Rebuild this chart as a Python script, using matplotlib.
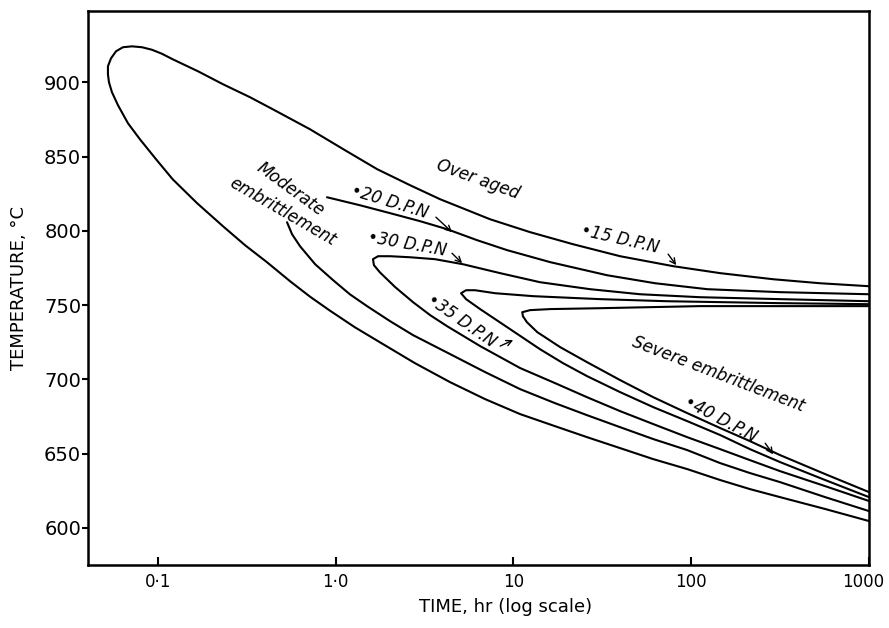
import numpy as np
import matplotlib
matplotlib.use("Agg")
import matplotlib.pyplot as plt
from matplotlib.transforms import ScaledTranslation

# embrittlement contours, hardness increase in D.P.N.
# each curve: time (hr), temperature (C), from the upper branch round the nose to the lower branch
t_15 = [1000, 531, 289, 145.5, 79.1, 39.8, 21.6, 12.4, 7.38, 3.86,
        2.62, 1.71, 1.13, 0.716, 0.443, 0.330, 0.232, 0.168, 0.121, 0.1053,
        0.0925, 0.0813, 0.0714, 0.0635, 0.0581, 0.0544, 0.0523, 0.0523, 0.0530, 0.0551,
        0.0596, 0.0678, 0.0792, 0.0975, 0.121, 0.166, 0.232, 0.309, 0.410, 0.553,
        0.716, 0.929, 1.28, 1.77, 2.79, 4.40, 6.92, 10.9, 17.1, 25.9,
        39.8, 61.1, 94.8, 145.5, 214, 316, 567, 1000]
T_15 = [762.7, 764.7, 767.4, 771.5, 776.2, 782.9, 791.0, 799.1, 807.8, 821.3,
        830.7, 841.5, 854.2, 868.4, 881.8, 889.9, 898.7, 907.4, 915.5, 919.2,
        921.9, 923.6, 924.2, 923.6, 920.9, 916.1, 910.8, 905.4, 900.0, 893.3,
        884.5, 872.4, 861.6, 848.2, 834.7, 818.6, 803.1, 790.3, 778.9, 766.1,
        755.7, 746.2, 735.1, 725.0, 710.9, 698.1, 686.7, 676.6, 668.5, 661.1,
        653.7, 646.3, 639.6, 632.2, 626.1, 620.7, 612.7, 604.6]

# 20 D.P.N. curve is broken where the "Moderate embrittlement" label sits
t_20_up = [0.893, 1.37, 2.02, 2.98, 4.23, 6.24, 9.20, 16.1, 33.6, 62.7, 123, 316, 1000]
T_20_up = [822.6, 817.2, 811.9, 806.5, 801.1, 793.7, 787.0, 778.9, 770.1, 764.7, 760.7, 758.7, 757.3]
t_20_lo = [0.532, 0.568, 0.630, 0.766, 0.966, 1.20, 1.50, 2.02, 2.72, 4.40, 6.92,
           10.9, 17.1, 25.9, 39.8, 61.1, 94.8, 145.5, 214, 316, 567, 1000]
T_20_lo = [805.8, 797.7, 789.6, 777.5, 766.8, 757.3, 749.3, 739.2, 729.8, 717.0, 704.9,
           693.4, 684.0, 675.9, 667.8, 659.8, 652.4, 643.6, 636.9, 630.8, 620.7, 611.3]

t_30 = [1000, 316, 112, 51.5, 27.0, 14.1, 8.41, 5.20, 3.62, 2.62,
        2.02, 1.73, 1.62, 1.64, 1.77, 2.16, 2.72, 3.40, 4.23, 6.49,
        10.9, 17.1, 25.9, 39.8, 61.1, 94.8, 145.5, 214, 316, 567, 1000]
T_30 = [752.6, 754.0, 755.3, 757.3, 760.7, 765.4, 771.5, 777.5, 780.9, 782.2,
        782.9, 782.9, 780.9, 776.9, 772.1, 762.1, 752.0, 743.2, 735.8, 722.4,
        707.6, 697.5, 688.0, 678.6, 669.9, 661.1, 653.0, 645.6, 638.2, 628.1, 618.1]

t_35 = [1000, 316, 73.1, 30.7, 12.9, 7.87, 6.08, 5.41, 5.07, 5.41,
        6.49, 9.57, 14.1, 19.0, 25.9, 39.8, 61.1, 94.8, 145.5, 214, 316, 567, 1000]
T_35 = [750.6, 751.3, 752.6, 754.0, 756.0, 758.0, 760.0, 760.0, 758.0, 754.0,
        747.3, 733.8, 720.3, 710.9, 702.2, 691.4, 681.3, 671.9, 662.5, 653.0, 644.3, 632.2, 620.7]

t_40 = [1000, 316, 112, 30.7, 16.1, 12.4, 11.2, 11.3, 11.9, 13.6,
        18.3, 25.9, 39.8, 61.1, 94.8, 145.5, 214, 316, 567, 1000]
T_40 = [749.3, 749.3, 749.3, 747.9, 747.3, 746.6, 745.2, 742.5, 738.5, 731.8,
        721.7, 711.6, 699.5, 688.0, 677.3, 667.2, 658.4, 649.0, 636.2, 624.1]

x_ticks = [0.1, 1, 10, 100, 1000]
x_ticklabels = ["0·1", "1·0", "10", "100", "1000"]
y_ticks = [600, 650, 700, 750, 800, 850, 900]

fig = plt.figure(figsize=(8.89, 6.28), dpi=100)
ax = fig.add_axes([0.099, 0.1003, 0.8785, 0.8822])

lw = 1.5
for t, T in [(t_15, T_15), (t_20_up, T_20_up), (t_20_lo, T_20_lo),
             (t_30, T_30), (t_35, T_35), (t_40, T_40)]:
    ax.plot(t, T, color="black", lw=lw, solid_joinstyle="round", solid_capstyle="round")

ax.set_xscale("log")
ax.set_xlim(0.0404, 1000)
ax.set_ylim(575, 948)
ax.set_xticks(x_ticks)
ax.set_xticklabels(x_ticklabels)
ax.xaxis.set_minor_locator(matplotlib.ticker.NullLocator())
ax.set_yticks(y_ticks)
ax.tick_params(axis="x", direction="in", length=6, width=1.5, labelsize=12, pad=6)
ax.tick_params(axis="y", direction="out", length=4, width=1.5, labelsize=14, pad=1)
for s in ax.spines.values():
    s.set_linewidth(1.8)

# pull the last time label in so it stays on the page
last = ax.get_xticklabels()[-1]
last.set_transform(last.get_transform() + ScaledTranslation(-6 / 100, 0, fig.dpi_scale_trans))

ax.set_xlabel("TIME, hr (log scale)", fontsize=13)
ax.xaxis.set_label_coords(0.535, -0.06)
ax.set_ylabel("TEMPERATURE, °C", fontsize=13)
ax.yaxis.set_label_coords(-0.077, 0.5)

lab = dict(fontsize=12, style="italic", ha="center", va="center", rotation_mode="anchor")
ax.text(6.32, 834.7, "Over aged", rotation=-20, **lab)
ax.text(0.56, 828.0, "Moderate", rotation=-36, **lab)
ax.text(0.50, 813.2, "embrittlement", rotation=-30, **lab)
ax.text(141.6, 703.5, "Severe embrittlement", rotation=-21, **lab)
ax.text(39.8, 794.4, "•15 D.P.N", rotation=-13, **lab)
ax.text(2.02, 819.3, "•20 D.P.N", rotation=-17, **lab)
ax.text(2.52, 791.0, "•30 D.P.N", rotation=-10, **lab)
ax.text(5.07, 739.2, "•35 D.P.N", rotation=-35, **lab)
ax.text(146, 673.0, "•40 D.P.N", rotation=-28, **lab)

arrow = dict(arrowstyle="->", lw=1.0, color="black", shrinkA=0, shrinkB=0)
ax.annotate("", xy=(82.3, 776.9), xytext=(74.1, 784.3), arrowprops=arrow)
ax.annotate("", xy=(4.51, 799.1), xytext=(3.66, 809.2), arrowprops=arrow)
ax.annotate("", xy=(5.14, 778.2), xytext=(4.51, 784.9), arrowprops=arrow)
ax.annotate("", xy=(9.96, 726.4), xytext=(8.41, 722.4), arrowprops=arrow)
ax.annotate("", xy=(289, 649.5), xytext=(260.6, 657.0), arrowprops=arrow)

fig.savefig("out.png", dpi=100)
